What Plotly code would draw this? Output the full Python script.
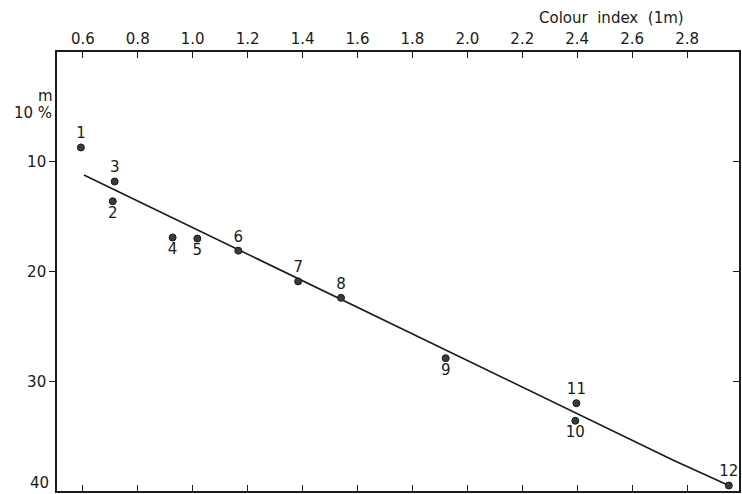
import plotly.graph_objects as go

# data
labels = ["1", "2", "3", "4", "5", "6", "7", "8", "9", "10", "11", "12"]
colour_index = [0.593, 0.709, 0.716, 0.927, 1.017, 1.166, 1.384, 1.540, 1.921, 2.393, 2.397, 2.952]
m_values = [8.7, 13.6, 11.8, 16.9, 17.0, 18.1, 20.9, 22.4, 27.9, 33.6, 32.0, 39.5]
label_pos = ["top center", "bottom center", "top center", "bottom center", "bottom center",
             "top center", "top center", "top center", "bottom center", "bottom center",
             "top center", "top center"]

fit_x = [0.604, 2.75, 2.952]
fit_y = [11.2, 37.2, 39.5]

x_ticks = [0.6, 0.8, 1.0, 1.2, 1.4, 1.6, 1.8, 2.0, 2.2, 2.4, 2.6, 2.8]
x_ticktext = ["0.6", "0.8", "1.0", "1.2", "1.4", "1.6", "1.8", "2.0", "2.2", "2.4", "2.6", "2.8"]
y_ticks = [10, 20, 30, 40]
y_ticktext = ["10", "20", "30", "40"]
y_ticks_right = [10, 20, 30]

font = "DejaVu Sans"
ink = "#1a1a1a"

fig = go.Figure()
fig.add_trace(go.Scatter(x=fit_x, y=fit_y, mode="lines",
                         line=dict(color=ink, width=1.6), showlegend=False,
                         hoverinfo="skip"))
fig.add_trace(go.Scatter(x=colour_index, y=m_values, mode="markers+text",
                         text=labels, textposition=label_pos,
                         textfont=dict(family=font, size=15, color=ink),
                         marker=dict(size=7, color="#3a3a3a",
                                     line=dict(color=ink, width=1)),
                         showlegend=False, cliponaxis=False))
# invisible trace for right axis
fig.add_trace(go.Scatter(x=[colour_index[0]], y=[m_values[0]], yaxis="y2",
                         mode="markers", marker=dict(opacity=0),
                         showlegend=False, hoverinfo="skip"))

W, H = 742, 494
L, R, T, B = 57, 1, 52, 2

fig.update_layout(
    width=W, height=H,
    margin=dict(l=L, r=R, t=T, b=B),
    paper_bgcolor="white", plot_bgcolor="white",
    font=dict(family=font, color=ink),
    xaxis=dict(side="top", range=[0.506, 2.989], tickvals=x_ticks,
               ticktext=x_ticktext, ticks="inside", ticklen=6, tickwidth=1.3,
               tickcolor=ink, showline=True, linecolor=ink, linewidth=1.6,
               mirror="ticks", showgrid=False, zeroline=False,
               tickfont=dict(family=font, size=15, color=ink)),
    yaxis=dict(range=[40, 0], tickvals=y_ticks[:3], ticktext=y_ticktext[:3],
               ticks="outside", ticklen=6,
               tickwidth=1.3, tickcolor=ink, showline=True, linecolor=ink,
               linewidth=1.6, mirror=True, showgrid=False, zeroline=False,
               tickfont=dict(family=font, size=15, color=ink)),
    yaxis2=dict(overlaying="y", side="right", range=[40, 0],
                tickvals=y_ticks_right, ticks="inside", ticklen=6,
                tickwidth=1.3, tickcolor=ink, showticklabels=False,
                showline=False, showgrid=False, zeroline=False),
)

pw, ph = W - L - R, H - T - B
def px(xp):
    return (xp - L) / pw
def py(yp):
    return 1 - (yp - T) / ph

txt_font = dict(family=font, size=15, color=ink)
fig.add_annotation(text="Colour  index  (1m)", x=px(613), y=py(18), xref="paper", yref="paper",
                   showarrow=False, font=txt_font, xanchor="center", yanchor="middle")
fig.add_annotation(text="m", x=px(45), y=py(96), xref="paper", yref="paper",
                   showarrow=False, font=txt_font, xanchor="center", yanchor="middle")
fig.add_annotation(text="10 %", x=px(33), y=py(113), xref="paper", yref="paper",
                   showarrow=False, font=txt_font, xanchor="center", yanchor="middle")
# last left tick label (40) sits at the very bottom edge of the frame
fig.add_annotation(text=y_ticktext[3], x=px(50), y=py(494), xref="paper", yref="paper",
                   showarrow=False, font=txt_font, xanchor="right", yanchor="bottom",
                   borderpad=0)

fig.write_html("out.html", config={"displayModeBar": False},
               post_script="document.body.style.margin='0';document.body.style.overflow='hidden';")
